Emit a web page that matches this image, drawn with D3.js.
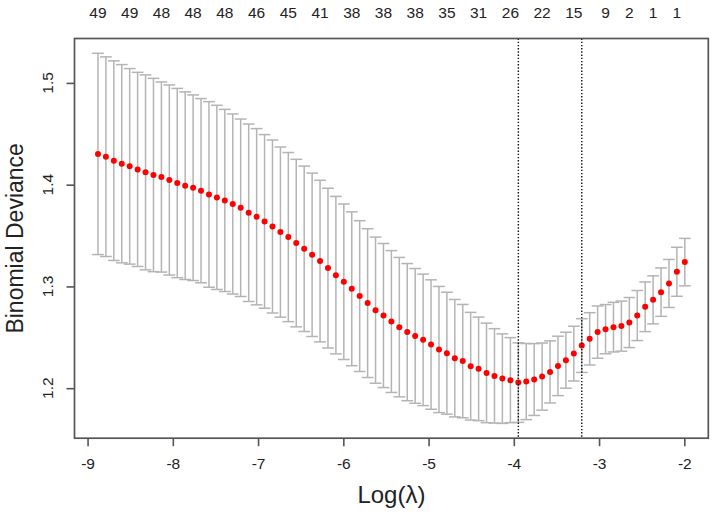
<!DOCTYPE html>
<html>
<head>
<meta charset="utf-8">
<script src="https://cdn.jsdelivr.net/npm/d3@7/dist/d3.min.js"></script>
<style>
  html, body { margin: 0; padding: 0; background: #fff; }
  svg { display: block; }
  text { font-family: "Liberation Sans", Arial, sans-serif; fill: #222; }
</style>
</head>
<body>
<svg id="chart" width="714" height="514"></svg>
<script>
// log(lambda) for each fit on the path
const logLambda = [
  -8.878, -8.785, -8.692, -8.599, -8.506, -8.413, -8.320, -8.227, -8.134, -8.041,
  -7.948, -7.855, -7.762, -7.669, -7.576, -7.483, -7.390, -7.297, -7.204, -7.110,
  -7.017, -6.924, -6.831, -6.738, -6.645, -6.552, -6.459, -6.366, -6.273, -6.180,
  -6.087, -5.994, -5.901, -5.808, -5.715, -5.622, -5.529, -5.436, -5.343, -5.250,
  -5.157, -5.064, -4.971, -4.878, -4.785, -4.692, -4.599, -4.506, -4.413, -4.320,
  -4.227, -4.134, -4.040, -3.947, -3.854, -3.761, -3.668, -3.575, -3.482, -3.389,
  -3.296, -3.203, -3.110, -3.017, -2.924, -2.831, -2.738, -2.645, -2.552, -2.459,
  -2.366, -2.273, -2.180, -2.087, -1.994
];
// mean cross-validated binomial deviance
const cvm = [
  1.4302, 1.4275, 1.4236, 1.4206, 1.4180, 1.4150, 1.4121, 1.4095, 1.4075, 1.4046,
  1.4016, 1.3990, 1.3970, 1.3941, 1.3904, 1.3875, 1.3845, 1.3810, 1.3773, 1.3724,
  1.3685, 1.3639, 1.3589, 1.3534, 1.3485, 1.3426, 1.3370, 1.3311, 1.3249, 1.3180,
  1.3111, 1.3046, 1.2977, 1.2905, 1.2836, 1.2767, 1.2714, 1.2655, 1.2600, 1.2551,
  1.2514, 1.2475, 1.2429, 1.2380, 1.2344, 1.2295, 1.2266, 1.2216, 1.2190, 1.2150,
  1.2121, 1.2094, 1.2079, 1.2055, 1.2065, 1.2085, 1.2114, 1.2160, 1.2219, 1.2275,
  1.2340, 1.2419, 1.2485, 1.2551, 1.2580, 1.2600, 1.2610, 1.2645, 1.2714, 1.2800,
  1.2868, 1.2944, 1.3029, 1.3144, 1.3239
];
// standard error of the CV deviance
const cvsd = [
  0.0989, 0.0981, 0.0981, 0.0974, 0.0961, 0.0954, 0.0958, 0.0950, 0.0934, 0.0934,
  0.0930, 0.0922, 0.0912, 0.0905, 0.0912, 0.0905, 0.0895, 0.0885, 0.0872, 0.0872,
  0.0866, 0.0853, 0.0850, 0.0836, 0.0831, 0.0823, 0.0813, 0.0803, 0.0794, 0.0785,
  0.0774, 0.0764, 0.0756, 0.0741, 0.0731, 0.0718, 0.0708, 0.0697, 0.0685, 0.0674,
  0.0662, 0.0646, 0.0636, 0.0620, 0.0599, 0.0577, 0.0557, 0.0529, 0.0509, 0.0489,
  0.0464, 0.0440, 0.0418, 0.0391, 0.0374, 0.0353, 0.0330, 0.0305, 0.0292, 0.0275,
  0.0269, 0.0264, 0.0257, 0.0257, 0.0242, 0.0244, 0.0246, 0.0246, 0.0246, 0.0244,
  0.0236, 0.0238, 0.0236, 0.0241, 0.0233
];
// number of nonzero coefficients shown on the top axis (at these lambda indices)
const topLambdaIdx = [0, 4, 8, 12, 16, 20, 24, 28, 32, 36, 40, 44, 48, 52, 56, 60, 64, 67, 70, 73];
const topLabels = ["49","49","48","48","48","46","45","41","38","38","38","35","31","26","22","15","9","2","1","1"];
const xTicks = [-9, -8, -7, -6, -5, -4, -3, -2];
const yTicks = [1.2, 1.3, 1.4, 1.5];
const lambdaMinIdx = 53;
const lambda1seIdx = 61;
const xLabel = "Log(λ)";
const yLabel = "Binomial Deviance";

const box = { left: 74.5, right: 708.3, top: 38.5, bottom: 438.2 };
const svg = d3.select("#chart");

const cvup = cvm.map((m, i) => m + cvsd[i]);
const cvlo = cvm.map((m, i) => m - cvsd[i]);

// R-style 4% padded ranges
const xe = d3.extent(logLambda);
const xp = (xe[1] - xe[0]) * 0.04;
const ye = [d3.min(cvlo), d3.max(cvup)];
const yp = (ye[1] - ye[0]) * 0.04;

const x = d3.scaleLinear().domain([xe[0] - xp, xe[1] + xp]).range([box.left, box.right]);
const y = d3.scaleLinear().domain([ye[0] - yp, ye[1] + yp]).range([box.bottom, box.top]);

const data = logLambda.map((l, i) => ({ l, m: cvm[i], up: cvup[i], lo: cvlo[i] }));
const barW = (xe[1] - xe[0]) * 0.01;

// error bars
const bars = svg.append("g").attr("stroke", "#b4b4b4").attr("stroke-width", 1.5).attr("fill", "none");
bars.selectAll("line.v").data(data).enter().append("line")
  .attr("x1", d => x(d.l)).attr("x2", d => x(d.l))
  .attr("y1", d => y(d.up)).attr("y2", d => y(d.lo));
bars.selectAll("line.u").data(data).enter().append("line")
  .attr("x1", d => x(d.l - barW)).attr("x2", d => x(d.l + barW))
  .attr("y1", d => y(d.up)).attr("y2", d => y(d.up));
bars.selectAll("line.l").data(data).enter().append("line")
  .attr("x1", d => x(d.l - barW)).attr("x2", d => x(d.l + barW))
  .attr("y1", d => y(d.lo)).attr("y2", d => y(d.lo));

// points
svg.append("g").selectAll("circle").data(data).enter().append("circle")
  .attr("cx", d => x(d.l)).attr("cy", d => y(d.m)).attr("r", 3)
  .attr("fill", "#ff0000");

// vertical dotted lines at lambda.min and lambda.1se
svg.append("g").selectAll("line").data([lambdaMinIdx, lambda1seIdx]).enter().append("line")
  .attr("x1", i => x(logLambda[i])).attr("x2", i => x(logLambda[i]))
  .attr("y1", box.top).attr("y2", box.bottom)
  .attr("stroke", "#111").attr("stroke-width", 1.4).attr("stroke-dasharray", "1.4,1.8");

// box
svg.append("rect")
  .attr("x", box.left).attr("y", box.top)
  .attr("width", box.right - box.left).attr("height", box.bottom - box.top)
  .attr("fill", "none").attr("stroke", "#555").attr("stroke-width", 1.7);

// bottom axis
const xAxis = d3.axisBottom(x).tickValues(xTicks).tickSize(8).tickPadding(12)
  .tickFormat(d3.format("d"));
const gx = svg.append("g").attr("transform", `translate(0,${box.bottom})`).call(xAxis);
gx.select(".domain").remove();
gx.selectAll("line").attr("stroke", "#555").attr("stroke-width", 1.6);
gx.selectAll("text").attr("font-size", 15.5).attr("fill", "#222")
  .attr("font-family", "Liberation Sans, Arial, sans-serif").text(d => String(d).replace("−", "-"));

// left axis
const yAxis = d3.axisLeft(y).tickValues(yTicks).tickSize(8).tickFormat(d3.format(".1f"));
const gy = svg.append("g").attr("transform", `translate(${box.left},0)`).call(yAxis);
gy.select(".domain").remove();
gy.selectAll("line").attr("stroke", "#555").attr("stroke-width", 1.6);
gy.selectAll("text").remove();
svg.append("g").selectAll("text").data(yTicks).enter().append("text")
  .attr("transform", d => `translate(48,${y(d)}) rotate(-90)`)
  .attr("text-anchor", "middle").attr("dy", "0.35em")
  .attr("font-size", 15.5).text(d => d3.format(".1f")(d));

// top axis labels (no ticks)
svg.append("g").selectAll("text").data(topLambdaIdx).enter().append("text")
  .attr("x", i => x(logLambda[i])).attr("y", 17.5)
  .attr("text-anchor", "middle").attr("font-size", 15.5)
  .text((i, k) => topLabels[k]);

// axis titles
svg.append("text").attr("x", (box.left + box.right) / 2).attr("y", 503)
  .attr("text-anchor", "middle").attr("font-size", 24).text(xLabel);
svg.append("text")
  .attr("transform", `translate(15,${(box.top + box.bottom) / 2}) rotate(-90)`)
  .attr("text-anchor", "middle").attr("dy", "0.35em").attr("font-size", 23).text(yLabel);
</script>
</body>
</html>
